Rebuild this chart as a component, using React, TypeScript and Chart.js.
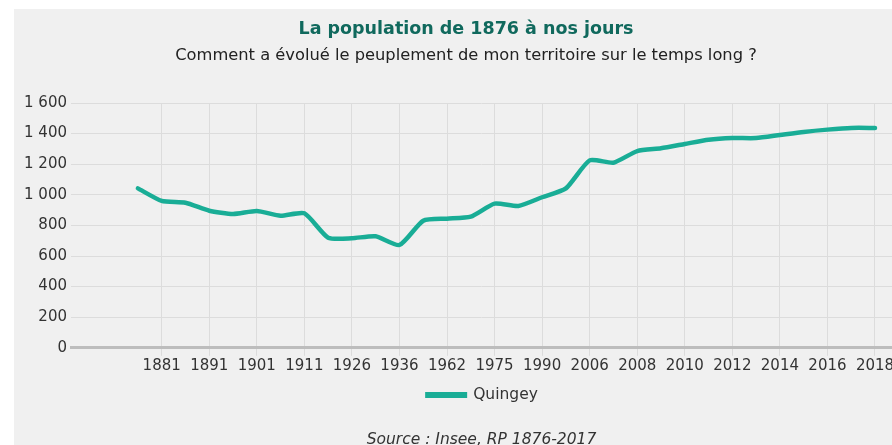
import { useEffect, useRef } from "react";
import { Chart, registerables } from "chart.js";

Chart.register(...registerables);

// ---- data ----
const YEARS = [
  "1876", "1881", "1886", "1891", "1896", "1901", "1906", "1911",
  "1921", "1926", "1931", "1936", "1954", "1962", "1968", "1975",
  "1982", "1990", "1999", "2006", "2007", "2008", "2009", "2010",
  "2011", "2012", "2013", "2014", "2015", "2016", "2017", "2018",
];
const POPULATION = [
  1042, 960, 948, 896, 874, 894, 863, 879,
  720, 716, 729, 672, 831, 844, 857, 942,
  927, 984, 1042, 1225, 1210, 1286, 1304, 1332,
  1360, 1371, 1371, 1391, 1411, 1426, 1437, 1437,
];
const LABELED_INDICES = YEARS.map((_, i) => i).filter((i) => i % 2 === 1);
const Y_MIN = 0;
const Y_MAX = 1600;
const Y_STEP = 200;

const TITLE = "La population de 1876 à nos jours";
const SUBTITLE = "Comment a évolué le peuplement de mon territoire sur le temps long ?";
const SERIES_NAME = "Quingey";
const SOURCE = "Source : Insee, RP 1876-2017";

// ---- styles ----
const FONT = "'DejaVu Sans', 'Liberation Sans', Arial, sans-serif";
const LINE_COLOR = "#19ad96";
const TITLE_COLOR = "#10695d";
const GRID_COLOR = "#dcdcdc";

const formatThousands = (v: number) =>
  String(v).replace(/\B(?=(\d{3})+(?!\d))/g, " ");

const textPlugin = {
  id: "textDecor",
  afterDraw(chart: any) {
    const { ctx, chartArea, width } = chart;
    ctx.save();
    ctx.textAlign = "center";
    ctx.textBaseline = "alphabetic";
    ctx.fillStyle = TITLE_COLOR;
    ctx.font = `bold 17.5px ${FONT}`;
    ctx.fillText(TITLE, width / 2, 24.5);
    ctx.fillStyle = "#222";
    ctx.font = `16.3px ${FONT}`;
    ctx.fillText(SUBTITLE, width / 2, 51);

    // legend
    const ds = chart.data.datasets[0];
    const cx = (chartArea.left + chartArea.right) / 2;
    ctx.font = `15.5px ${FONT}`;
    const tw = ctx.measureText(ds.label).width;
    const boxW = 42;
    const gap = 6;
    const x0 = cx - (boxW + gap + tw) / 2;
    const ly = 386;
    ctx.strokeStyle = ds.borderColor;
    ctx.lineWidth = 6;
    ctx.beginPath();
    ctx.moveTo(x0, ly);
    ctx.lineTo(x0 + boxW, ly);
    ctx.stroke();
    ctx.fillStyle = "#333";
    ctx.textAlign = "left";
    ctx.textBaseline = "middle";
    ctx.fillText(ds.label, x0 + boxW + gap, ly);

    // source
    ctx.font = `italic 15.5px ${FONT}`;
    ctx.textAlign = "center";
    ctx.textBaseline = "alphabetic";
    ctx.fillStyle = "#333";
    ctx.fillText(SOURCE, cx, 435);
    ctx.restore();
  },
};

export default function App() {
  const ref = useRef<HTMLCanvasElement | null>(null);

  useEffect(() => {
    if (!ref.current) return;
    const chart = new Chart(ref.current, {
      type: "line",
      data: {
        datasets: [
          {
            label: SERIES_NAME,
            data: POPULATION.map((v, i) => ({ x: i, y: v })),
            borderColor: LINE_COLOR,
            backgroundColor: LINE_COLOR,
            borderWidth: 4.5,
            pointRadius: 0,
            pointHoverRadius: 0,
            tension: 0.2,
            borderCapStyle: "round",
            borderJoinStyle: "round",
            fill: false,
          },
        ],
      },
      plugins: [textPlugin],
      options: {
        responsive: false,
        animation: false,
        devicePixelRatio: 1,
        layout: { padding: { top: 94, left: 0, right: 26, bottom: 81.2 } },
        plugins: {
          legend: { display: false },
          title: { display: false },
          tooltip: { enabled: false },
        },
        scales: {
          x: {
            type: "linear",
            min: -2.814,
            max: 31.715,
            afterBuildTicks: (scale: any) => {
              scale.ticks = LABELED_INDICES.map((v) => ({ value: v }));
            },
            afterFit: (scale: any) => {
              scale.height = 30;
            },
            ticks: {
              autoSkip: false,
              maxRotation: 0,
              padding: 1,
              color: "#333",
              font: { family: FONT, size: 15 },
              callback: (v: any) => YEARS[Math.round(Number(v))] ?? "",
            },
            grid: {
              color: GRID_COLOR,
              lineWidth: 1,
              drawTicks: true,
              tickLength: 8,
              tickColor: GRID_COLOR,
            },
            border: { display: true, color: "#bdbdbd", width: 3 },
          },
          y: {
            min: Y_MIN,
            max: Y_MAX,
            afterFit: (scale: any) => {
              scale.width = 57;
            },
            ticks: {
              stepSize: Y_STEP,
              padding: 4,
              color: "#333",
              font: { family: FONT, size: 15 },
              callback: (v: any) => formatThousands(Number(v)),
            },
            grid: { color: GRID_COLOR, lineWidth: 1, drawTicks: false },
            border: { display: false },
          },
        },
      },
    } as any);
    return () => chart.destroy();
  }, []);

  return (
    <div
      style={{
        position: "absolute",
        left: 14,
        top: 9,
        width: 878,
        height: 436,
        overflow: "hidden",
        background: "#f0f0f0",
      }}
    >
      <canvas ref={ref} width={904} height={450} style={{ display: "block" }} />
    </div>
  );
}
